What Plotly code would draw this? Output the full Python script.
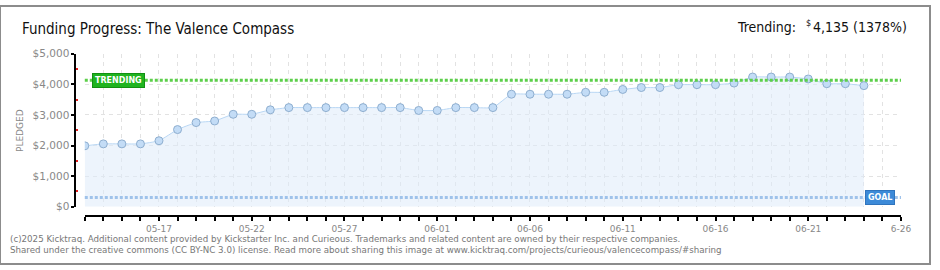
import plotly.graph_objects as go
import pandas as pd

dates = pd.date_range("2025-05-13", "2025-06-24", freq="D").strftime("%Y-%m-%d").tolist()
pledged = [1990, 2053, 2053, 2053, 2156, 2521, 2750, 2802, 3021, 3021, 3167, 3240, 3240,
           3240, 3240, 3240, 3240, 3240, 3146, 3146, 3240, 3240, 3240, 3677, 3677, 3677,
           3677, 3740, 3740, 3833, 3896, 3896, 3990, 3990, 3990, 4042, 4240, 4240, 4240,
           4177, 4021, 4021, 3958]
trending_value = 4135
goal_value = 300
x_tick_vals = ["2025-05-17", "2025-05-22", "2025-05-27", "2025-06-01", "2025-06-06",
               "2025-06-11", "2025-06-16", "2025-06-21", "2025-06-26"]
x_tick_text = ["05-17", "05-22", "05-27", "06-01", "06-06", "06-11", "06-16", "06-21", "6-26"]
y_tick_vals = [0, 1000, 2000, 3000, 4000, 5000]
y_tick_text = ["$0", "$1,000", "$2,000", "$3,000", "$4,000", "$5,000"]
y_minor_vals = [500, 1500, 2500, 3500, 4500]

W, H = 940, 270
def px(x):
    return x / W
def py(y):
    return 1 - y / H

fig = go.Figure()
fig.add_trace(go.Scatter(
    x=dates, y=pledged, mode="lines+markers",
    line=dict(color="#b9d7f4", width=1, shape="spline", smoothing=0.4),
    fill="tozeroy", fillcolor="rgba(222,235,250,0.55)",
    marker=dict(size=8, color="#c3dcf6", line=dict(color="#8eaecf", width=1)),
    showlegend=False, hoverinfo="skip"))

# trending and goal lines
fig.add_shape(type="line", xref="x domain", yref="y", x0=0, x1=1, y0=trending_value, y1=trending_value,
              line=dict(color="#5ccf4a", width=3, dash="3px,2px"), layer="above")
fig.add_shape(type="line", xref="x domain", yref="y", x0=0, x1=1, y0=goal_value, y1=goal_value,
              line=dict(color="#9fc2ea", width=3, dash="3px,2px"), layer="above")

grid = "#e2e2e2"
fig.update_layout(
    width=W, height=H, margin=dict(l=0, r=0, t=0, b=0),
    paper_bgcolor="white", plot_bgcolor="white",
    font=dict(family="DejaVu Sans", color="#888"),
    xaxis=dict(
        domain=[px(85.7), px(910.7)], range=["2025-05-13", "2025-06-26"], type="date",
        anchor="free", position=py(220), showline=True, linecolor="#000", linewidth=1.5,
        tickmode="array", tickvals=x_tick_vals, ticktext=x_tick_text,
        ticks="outside", ticklen=4, tickcolor="#000", tickwidth=1.5,
        tickfont=dict(size=9, color="#888", family="DejaVu Sans"),
        showgrid=True, gridcolor=grid, griddash="4px,4px", gridwidth=1,
        minor=dict(dtick=86400000, tick0="2025-05-13", ticks="outside", ticklen=4,
                   tickcolor="#000", tickwidth=1.5, showgrid=True, gridcolor=grid,
                   griddash="4px,4px", gridwidth=1),
        zeroline=False, fixedrange=True),
    yaxis=dict(
        domain=[py(210), py(50)], range=[0, 5000],
        anchor="free", position=px(76), showline=True, linecolor="#000", linewidth=1.5,
        tickmode="array", tickvals=y_tick_vals, ticktext=y_tick_text,
        ticks="outside", ticklen=3, tickcolor="#000", tickwidth=1.5,
        tickfont=dict(size=10.5, color="#888", family="DejaVu Sans"),
        showgrid=True, gridcolor=grid, griddash="4px,4px", gridwidth=1,
        minor=dict(tickvals=y_minor_vals, ticks="inside", ticklen=2, tickcolor="#e02020",
                   tickwidth=1.5, showgrid=False),
        zeroline=False, fixedrange=True),
)

fig.add_annotation(xref="paper", yref="paper", x=px(20), y=py(24), xanchor="left", yanchor="middle",
                   text="Funding Progress: The Valence Compass", showarrow=False,
                   font=dict(family="DejaVu Sans Condensed", size=15, color="#111"))
fig.add_annotation(xref="paper", yref="paper", x=px(919), y=py(22), xanchor="right", yanchor="middle",
                   text="4,135 (1378%)", showarrow=False,
                   font=dict(family="DejaVu Sans Condensed", size=14, color="#111"))
fig.add_annotation(xref="paper", yref="paper", x=px(821), y=py(18), xanchor="right", yanchor="middle",
                   text="$", showarrow=False, borderpad=0,
                   font=dict(family="DejaVu Sans Condensed", size=9, color="#111"))
fig.add_annotation(xref="paper", yref="paper", x=px(806), y=py(22), xanchor="right", yanchor="middle",
                   text="Trending:", showarrow=False, borderpad=0,
                   font=dict(family="DejaVu Sans Condensed", size=14, color="#111"))
fig.add_annotation(xref="paper", yref="paper", x=px(20), y=py(130), xanchor="center", yanchor="middle",
                   text="PLEDGED", textangle=-90, showarrow=False,
                   font=dict(family="DejaVu Sans", size=9, color="#888"))
fig.add_annotation(xref="paper", yref="y", x=px(93), y=trending_value, xanchor="left", yanchor="middle",
                   text="TRENDING", showarrow=False, bgcolor="#1fb31f", bordercolor="#129012", borderwidth=1,
                   borderpad=2, font=dict(family="DejaVu Sans", size=8, color="white", weight="bold"))
fig.add_annotation(xref="paper", yref="y", x=px(905), y=goal_value, xanchor="right", yanchor="middle",
                   text="GOAL", showarrow=False, bgcolor="#3c8ad8", bordercolor="#2f74bd", borderwidth=1,
                   borderpad=2, font=dict(family="DejaVu Sans", size=8, color="white", weight="bold"))
fig.add_annotation(xref="paper", yref="paper", x=px(8), y=py(244), xanchor="left", yanchor="middle",
                   text="(c)2025 Kicktraq. Additional content provided by Kickstarter Inc. and Curieous. Trademarks and related content are owned by their respective companies.",
                   showarrow=False, font=dict(family="DejaVu Sans", size=8.7, color="#777"))
fig.add_annotation(xref="paper", yref="paper", x=px(8), y=py(255.5), xanchor="left", yanchor="middle",
                   text="Shared under the creative commons (CC BY-NC 3.0) license. Read more about sharing this image at www.kicktraq.com/projects/curieous/valencecompass/#sharing",
                   showarrow=False, font=dict(family="DejaVu Sans", size=8.7, color="#777"))

fig.add_shape(type="rect", xref="paper", yref="paper", x0=0, x1=1, y0=0, y1=1,
              line=dict(color="#8c8c8c", width=2), layer="above")

fig.write_html("out.html")
